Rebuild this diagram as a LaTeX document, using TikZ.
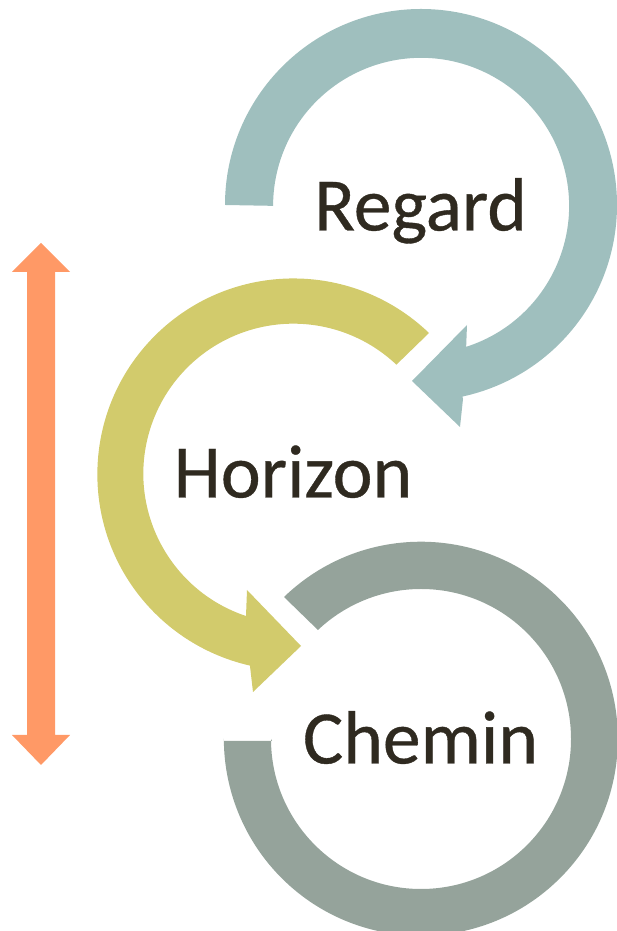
\documentclass[tikz,border=0pt]{standalone}
\usepackage{fontspec}
\setmainfont{Carlito}
\newfontfamily\wordfont[FakeBold=0.5]{Carlito}
\definecolor{ringteal}{HTML}{9FBFBE}
\definecolor{ringyellow}{HTML}{D2CB6C}
\definecolor{ringgray}{HTML}{95A39B}
\definecolor{arroworange}{HTML}{FF9966}
\definecolor{labelink}{HTML}{2F2A20}
\tikzset{
  word/.style={anchor=base,text=labelink,font=\wordfont\fontsize{75.6}{76}\selectfont,inner sep=0pt},
}
\begin{document}
\begin{tikzpicture}[x=1pt,y=1pt]
\useasboundingbox (0,0) rectangle (617,931);
% Regard ring: centre (421,726)
\fill[ringteal] (225,726) arc[start angle=180,end angle=-77.8,radius=196]
  -- (463,532) -- (460,504) -- (412,550) -- (467,606) -- (466,580)
  -- (465.6,584) arc[start angle=-72.5,end angle=180,radius=148] -- cycle;
% Horizon ring: centre (293,456)
\fill[ringyellow] (429,598) arc[start angle=46.2,end angle=257.2,radius=196]
  -- (253,239) -- (301,285) -- (247,341) -- (246,315)
  arc[start angle=251.6,end angle=46.6,radius=150] -- cycle;
% Chemin ring: centre (421,192)
\fill[ringgray] (284,334) arc[start angle=134,end angle=-180,radius=197]
  -- (224,190) -- (272,190) -- (271,192) arc[start angle=-180,end angle=133.4,radius=150] -- cycle;
% Double arrow
\fill[arroworange] (41,688) -- (70,659) -- (55,659) -- (55,196) -- (70,196) -- (41,166)
  -- (12,196) -- (27,196) -- (27,659) -- (12,659) -- cycle;
\node[word] (regard) at (420.5,700.5) {Regard};
\node[word] (horizon) at (293,433.5) {Horizon};
\node[word] (chemin) at (420.5,167.5) {Chemin};
\end{tikzpicture}
\end{document}
